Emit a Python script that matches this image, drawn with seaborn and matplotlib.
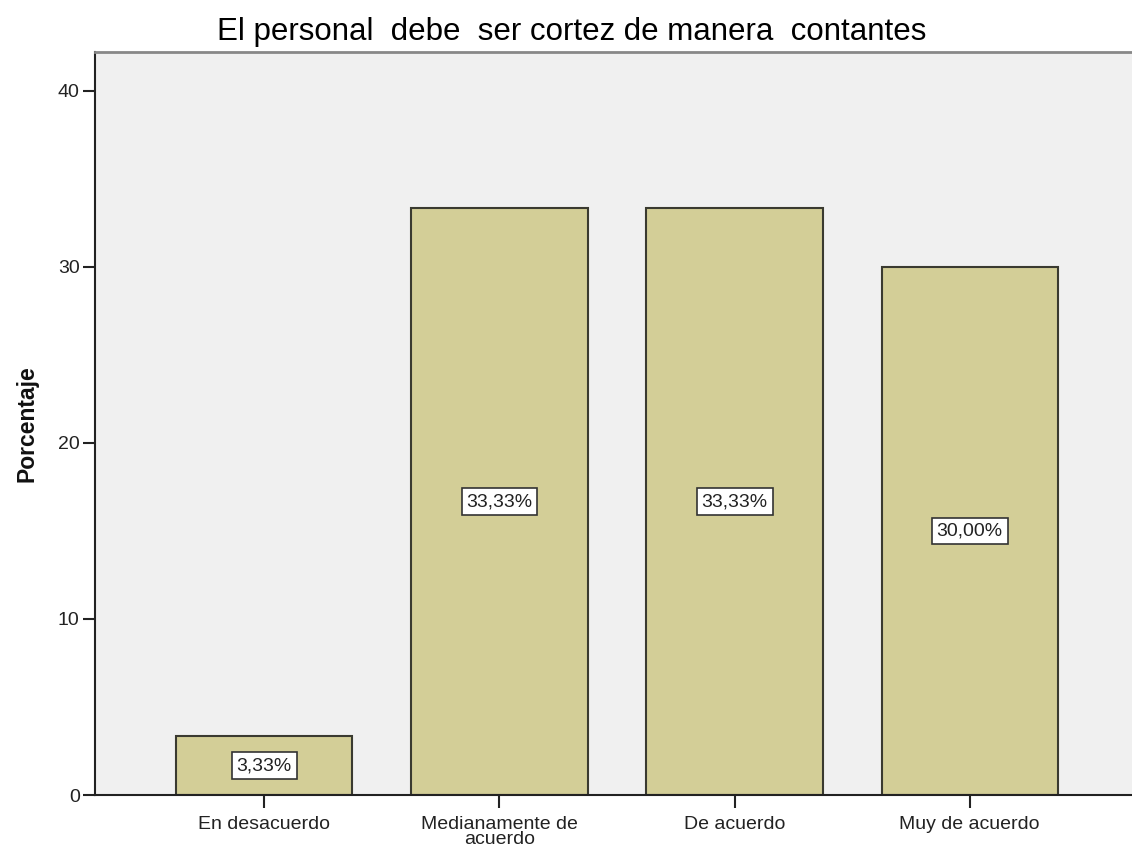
import matplotlib
matplotlib.use('Agg')
import matplotlib.pyplot as plt
import seaborn as sns
import pandas as pd

categorias = ['En desacuerdo', 'Medianamente de\nacuerdo', 'De acuerdo', 'Muy de acuerdo']
porcentajes = [3.33, 33.33, 33.33, 30.00]
etiquetas = ['3,33%', '33,33%', '33,33%', '30,00%']

df = pd.DataFrame({'categoria': categorias, 'porcentaje': porcentajes})

sns.set_style('white')
plt.rcParams['font.family'] = ['Liberation Sans', 'DejaVu Sans']

fig = plt.figure(figsize=(11.32, 8.52), dpi=100)
ax = fig.add_axes([0.0839, 0.0669, 0.9161, 0.872])
ax.set_facecolor('#f0f0f0')

sns.barplot(data=df, x='categoria', y='porcentaje', color='#d3ce97', width=0.75,
            edgecolor='#3a3a30', linewidth=1.5, saturation=1, ax=ax)

for i, (v, t) in enumerate(zip(porcentajes, etiquetas)):
    ax.text(i, v / 2, t, ha='center', va='center', fontsize=14, color='#222222',
            bbox=dict(boxstyle='square,pad=0.25', facecolor='white', edgecolor='#333333', linewidth=1.2))

ax.set_xlim(-0.72, 3.69)
ax.set_ylim(0, 42.2)
ax.set_yticks([0, 10, 20, 30, 40])
ax.tick_params(axis='both', direction='out', length=9, width=1.5, colors='#222222', labelsize=14,
               left=True, bottom=True, pad=2)
ax.tick_params(axis='x', pad=6)
for lab in ax.get_xticklabels():
    lab.set_linespacing(0.85)
ax.set_xlabel('')
ax.set_ylabel('Porcentaje', fontsize=16.5, fontweight='bold', labelpad=14, color='#111111')
fig.text(0.505, 0.963, 'El personal  debe  ser cortez de manera  contantes', fontsize=22.5,
         ha='center', va='center', color='black')

for s in ['left', 'bottom']:
    ax.spines[s].set_color('#222222')
    ax.spines[s].set_linewidth(1.5)
ax.spines['top'].set_color('#888888')
ax.spines['top'].set_linewidth(2)
ax.spines['right'].set_visible(False)

fig.savefig('out.png', dpi=100, facecolor='white')
